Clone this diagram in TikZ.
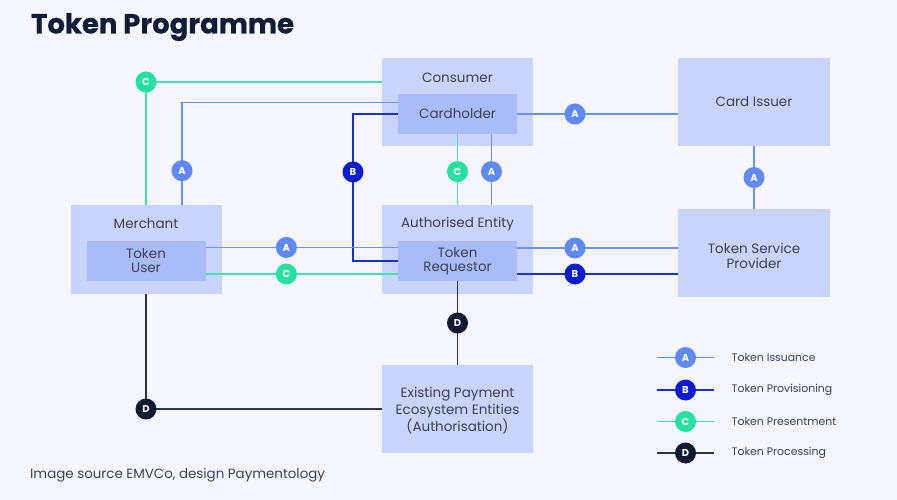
\documentclass[tikz,border=0pt]{standalone}
\usepackage{fontspec}
\setmainfont{Poppins}
\newfontfamily\titlefont{Poppins}[FakeBold=0.8]
\usetikzlibrary{calc}
\definecolor{bg}{HTML}{F5F6FD}
\definecolor{navy}{HTML}{111D38}
\definecolor{txt}{HTML}{3B4256}
\definecolor{outerc}{HTML}{C8D4FC}
\definecolor{innerc}{HTML}{A9BCFA}
\definecolor{colA}{HTML}{6189F6}
\definecolor{lnA}{HTML}{6C90F7}
\definecolor{colB}{HTML}{0B1BD3}
\definecolor{lnB}{HTML}{1E2DD2}
\definecolor{colC}{HTML}{25E19F}
\definecolor{lnC}{HTML}{40E3AD}
\definecolor{colD}{HTML}{101B33}
\definecolor{lnD}{HTML}{2A3348}
\tikzset{
  outerbox/.style={fill=outerc, draw=none, inner sep=0pt},
  innerbox/.style={fill=innerc, draw=none, inner sep=0pt, minimum width=119pt, minimum height=40pt, text=txt, align=center, font=\fontsize{13.5}{14}\selectfont},
  boxlabel/.style={text=txt, font=\fontsize{13.5}{14}\selectfont, inner sep=0pt, align=center},
  badge/.style={circle, minimum size=21pt, inner sep=0pt, text=white, font=\bfseries\fontsize{10}{10}\selectfont},
  bA/.style={badge, fill=colA},
  bB/.style={badge, fill=colB},
  bC/.style={badge, fill=colC},
  bD/.style={badge, fill=colD},
  lA/.style={draw=lnA, line width=1.6pt},
  lB/.style={draw=lnB, line width=1.6pt},
  lC/.style={draw=lnC, line width=1.6pt},
  lD/.style={draw=lnD, line width=1.6pt},
  legtext/.style={anchor=west, text=txt, font=\fontsize{10.9}{12}\selectfont, inner sep=0pt}
}
\begin{document}
\begin{tikzpicture}[x=1pt,y=-1pt]
\fill[bg] (0,0) rectangle (897,500);
\useasboundingbox (0,0) rectangle (897,500);

\node[anchor=west, text=navy, inner sep=0pt, font=\titlefont\bfseries\fontsize{27.5}{30}\selectfont] (title) at (31,27) {Token Programme};

% boxes
\node[outerbox, minimum width=151pt, minimum height=88pt] (consumer) at (457.5,102) {};
\node[boxlabel] (consumerlbl) at (457.5,77.5) {Consumer};
\node[innerbox] (cardholder) at (457.5,114) {Cardholder};

\node[outerbox, minimum width=152pt, minimum height=88pt, text=txt, font=\fontsize{13.5}{14}\selectfont] (issuer) at (754,102) {Card Issuer};

\node[outerbox, minimum width=151pt, minimum height=89pt] (merchant) at (146,249.5) {};
\node[boxlabel] (merchantlbl) at (146,224) {Merchant};
\node[innerbox] (user) at (146,261) {Token\\User};

\node[outerbox, minimum width=151pt, minimum height=89pt] (authent) at (457.5,249.5) {};
\node[boxlabel] (authentlbl) at (457.5,224) {Authorised Entity};
\node[innerbox] (requestor) at (457.5,261) {Token\\Requestor};

\node[outerbox, minimum width=152pt, minimum height=88pt] (tsp) at (754,253) {};
\node[boxlabel, font=\fontsize{13.5}{15.5}\selectfont] (tsplbl) at (754,256) {Token Service\\Provider};

\node[outerbox, minimum width=151pt, minimum height=88pt] (existing) at (457.5,409) {};
\node[boxlabel, font=\fontsize{13.5}{17}\selectfont] (existinglbl) at (457.5,410.5) {Existing Payment\\Ecosystem Entities\\(Authorisation)};

% connectors
\draw[lC] ([yshift=20pt]consumer.west) -| node[bC, pos=0.5] (c1) {C} (merchant.north);
\draw[lA] ([yshift=11.3pt]cardholder.west) -| node[bA, pos=0.833] (a1) {A} ([xshift=36pt]merchant.north);
\coordinate (bturn) at (353,172);
\draw[lB] (cardholder.west) -| (bturn) node[bB] (b1) {B} |- (requestor.west);
\draw[lC] (cardholder.south) -- node[bC, pos=0.53] (c2) {C} (authent.north);
\draw[lA] ([xshift=34pt]cardholder.south) -- node[bA, pos=0.53] (a2) {A} ([xshift=34pt]authent.north);
\draw[lA] (cardholder.east) -- node[bA, pos=0.36] (a3) {A} ([yshift=-12pt]issuer.west);
\draw[lA] (issuer.south) -- node[bA, pos=0.5] (a4) {A} (tsp.north);
\draw[lA] ([yshift=13.5pt]user.east) -- node[bA, pos=0.42] (a5) {A} ([yshift=13.5pt]requestor.west);
\draw[lC] ([yshift=-13pt]user.east) -- node[bC, pos=0.42] (c3) {C} ([yshift=-13pt]requestor.west);
\draw[lA] ([yshift=13pt]requestor.east) -- node[bA, pos=0.36] (a6) {A} ([yshift=5pt]tsp.west);
\draw[lB] ([yshift=-13pt]requestor.east) -- node[bB, pos=0.36] (b2) {B} ([yshift=-21pt]tsp.west);
\draw[lD] (requestor.south) -- node[bD, pos=0.5] (d1) {D} (existing.north);
\draw[lD] (merchant.south) |- node[bD, pos=0.5] (d2) {D} (existing.west);

% legend
\coordinate (la0) at (657,357.5); \coordinate (la1) at (714,357.5);
\coordinate (lb0) at (657,390); \coordinate (lb1) at (714,390);
\coordinate (lc0) at (657,421.5); \coordinate (lc1) at (714,421.5);
\coordinate (ld0) at (657,453); \coordinate (ld1) at (714,453);
\draw[lA] (la0) -- node[bA] (legA) {A} (la1);
\draw[lB] (lb0) -- node[bB] (legB) {B} (lb1);
\draw[lC] (lc0) -- node[bC] (legC) {C} (lc1);
\draw[lD] (ld0) -- node[bD] (legD) {D} (ld1);
\node[legtext] (legAt) at (731.5,357.5) {Token Issuance};
\node[legtext] (legBt) at (731.5,390) {Token Provisioning};
\node[legtext] (legCt) at (731.5,421.5) {Token Presentment};
\node[legtext] (legDt) at (731.5,453) {Token Processing};

\node[anchor=west, text=txt, inner sep=0pt, font=\fontsize{13.4}{15}\selectfont] (source) at (30,475) {Image source EMVCo, design Paymentology};
\end{tikzpicture}
\end{document}
